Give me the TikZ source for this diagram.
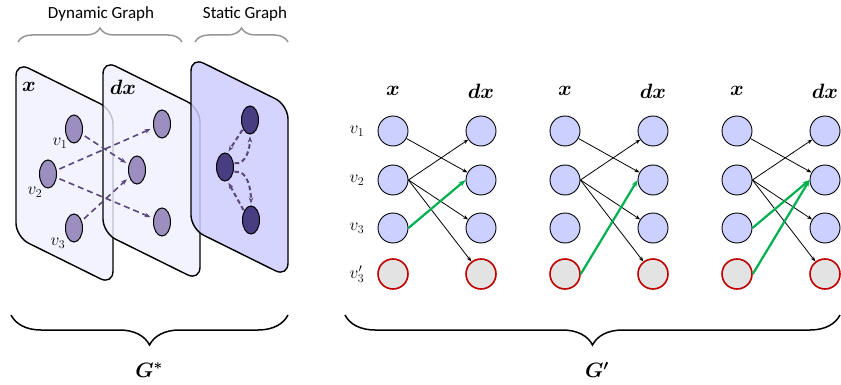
\documentclass[tikz,border=0pt]{standalone}
\usepackage{amsmath}
\usepackage{fontspec}
\setsansfont{Carlito}
\usetikzlibrary{arrows.meta,shapes.geometric,decorations.pathreplacing}
\definecolor{panelLight}{RGB}{240,240,255}
\definecolor{panelDark}{RGB}{204,204,255}
\definecolor{ellMid}{RGB}{156,143,191}
\definecolor{ellDark}{RGB}{72,61,128}
\definecolor{dashPurple}{RGB}{88,72,124}
\definecolor{nodeBlue}{RGB}{204,208,255}
\definecolor{hitGreen}{RGB}{0,176,80}
\definecolor{ghostRed}{RGB}{192,0,0}
\definecolor{braceGray}{RGB}{150,150,150}

\begin{document}
\begin{tikzpicture}[x=1pt,y=-1pt,
  font=\fontsize{18}{21}\selectfont,
  panel/.style={draw=black,line width=1.4,rounded corners=14,fill=panelLight,fill opacity=0.8},
  ell/.style={ellipse,draw=black,line width=1,fill=ellMid,minimum width=17,minimum height=28,inner sep=0},
  ellS/.style={ell,fill=ellDark},
  dyn/.style={-{Stealth[length=6]},dashPurple,line width=1.6,dash pattern=on 6pt off 4pt,shorten <=3pt,shorten >=3pt},
  loop/.style={dyn,line width=2,dash pattern=on 4.5pt off 3pt,shorten <=1pt,shorten >=2pt},
  vtx/.style={circle,draw=black,line width=0.9,fill=nodeBlue,minimum size=30,inner sep=0},
  ghost/.style={vtx,draw=ghostRed,fill=gray!22,line width=1.6},
  edge/.style={-{Stealth[length=5]},black,line width=0.8},
  hit/.style={-{Stealth[length=7]},hitGreen,line width=2.2},
  topbrace/.style={decorate,decoration={brace,amplitude=14},braceGray,line width=1.5},
  botbrace/.style={decorate,decoration={brace,amplitude=30,mirror},black,line width=1.5},
  lbl/.style={inner sep=1pt},
  head/.style={inner sep=1pt,font=\fontsize{20}{23}\selectfont},
  title/.style={font=\sffamily\fontsize{17}{20}\selectfont},
]
\useasboundingbox (0,0) rectangle (841,385);

% layers
\draw[panel] (16,62) -- ++(97,48) -- ++(0,175) -- ++(-97,-48) -- cycle;
\draw[panel] (103,60) -- ++(97,48) -- ++(0,173) -- ++(-97,-48) -- cycle;
\draw[panel,fill=panelDark,fill opacity=0.85] (191,57) -- ++(97,48) -- ++(0,172) -- ++(-97,-48) -- cycle;
\node[head] (px) at (29,87) {$\boldsymbol{x}$};
\node[head] (pdx) at (123,87) {$\boldsymbol{dx}$};

% dynamic graph nodes
\node[ell] (d1) at (74,129) {};
\node[ell] (d2) at (48,174) {};
\node[ell] (d3) at (74,228) {};
\node[ell] (e1) at (162,124) {};
\node[ell] (e2) at (137,170) {};
\node[ell] (e3) at (162,222) {};
\node[lbl] (lv1) at (60,143) {$v_1$};
\node[lbl] (lv2) at (35,192) {$v_2$};
\node[lbl] (lv3) at (58,243) {$v_3$};
\draw[dyn] (d1) -- (e2);
\draw[dyn] (d2) -- (e1);
\draw[dyn] (d2) -- (e3);
\draw[dyn] (d3) -- (e2);

% static graph nodes
\node[ellS] (s1) at (250,120) {};
\node[ellS] (s2) at (225,167) {};
\node[ellS] (s3) at (251,220) {};
\draw[loop] (s1.232) -- (s2.80);
\draw[loop] (s2.25) to[out=-10,in=-90] (s1.south);
\draw[loop] (s2.-30) to[out=10,in=90] (s3.north);
\draw[loop] (s3.128) -- (s2.-80);

% top braces
\draw[topbrace] (18,42) -- (182,42);
\draw[topbrace] (195,42) -- (288,42);
\node[title] (tdyn) at (101,14) {Dynamic Graph};
\node[title] (tsta) at (245,14) {Static Graph};

% row labels
\node[lbl] (r1) at (357,131) {$v_1$};
\node[lbl] (r2) at (357,180) {$v_2$};
\node[lbl] (r3) at (357,228) {$v_3$};
\node[lbl] (r4) at (357,274) {$v_3'$};

% group 1
\node[head] (h1x) at (393,91) {$\boldsymbol{x}$};
\node[head] (h1d) at (481,91) {$\boldsymbol{dx}$};
\node[vtx] (g1x1) at (393,131) {};
\node[vtx] (g1x2) at (393,180) {};
\node[vtx] (g1x3) at (393,228) {};
\node[ghost] (g1x4) at (393,274) {};
\node[vtx] (g1d1) at (481,131) {};
\node[vtx] (g1d2) at (481,180) {};
\node[vtx] (g1d3) at (481,228) {};
\node[ghost] (g1d4) at (481,274) {};
\draw[edge] (g1x1) -- (g1d2);
\draw[edge] (g1x2.east) -- (g1d1);
\draw[edge] (g1x2.east) -- (g1d3);
\draw[edge] (g1x2.east) -- (g1d4);
\draw[hit] (g1x3.east) -- (g1d2.west);

% group 2
\node[head] (h2x) at (565,91) {$\boldsymbol{x}$};
\node[head] (h2d) at (653,91) {$\boldsymbol{dx}$};
\node[vtx] (g2x1) at (565,131) {};
\node[vtx] (g2x2) at (565,180) {};
\node[vtx] (g2x3) at (565,228) {};
\node[ghost] (g2x4) at (565,274) {};
\node[vtx] (g2d1) at (653,131) {};
\node[vtx] (g2d2) at (653,180) {};
\node[vtx] (g2d3) at (653,228) {};
\node[ghost] (g2d4) at (653,274) {};
\draw[edge] (g2x1) -- (g2d2);
\draw[edge] (g2x2.east) -- (g2d1);
\draw[edge] (g2x2.east) -- (g2d3);
\draw[edge] (g2x2.east) -- (g2d4);
\draw[hit] (g2x4.east) -- (g2d2.west);

% group 3
\node[head] (h3x) at (737,91) {$\boldsymbol{x}$};
\node[head] (h3d) at (825,91) {$\boldsymbol{dx}$};
\node[vtx] (g3x1) at (737,131) {};
\node[vtx] (g3x2) at (737,180) {};
\node[vtx] (g3x3) at (737,228) {};
\node[ghost] (g3x4) at (737,274) {};
\node[vtx] (g3d1) at (825,131) {};
\node[vtx] (g3d2) at (825,180) {};
\node[vtx] (g3d3) at (825,228) {};
\node[ghost] (g3d4) at (825,274) {};
\draw[edge] (g3x1) -- (g3d2);
\draw[edge] (g3x2.east) -- (g3d1);
\draw[edge] (g3x2.east) -- (g3d3);
\draw[edge] (g3x2.east) -- (g3d4);
\draw[hit] (g3x3.east) -- (g3d2.west);
\draw[hit] (g3x4.east) -- (g3d2.west);

% bottom braces
\draw[botbrace] (11,315) -- (288,315);
\draw[botbrace] (345,315) -- (840,315);
\node[head] (gstar) at (149,370) {$\boldsymbol{G^*}$};
\node[head] (gprime) at (597,370) {$\boldsymbol{G'}$};
\end{tikzpicture}
\end{document}
